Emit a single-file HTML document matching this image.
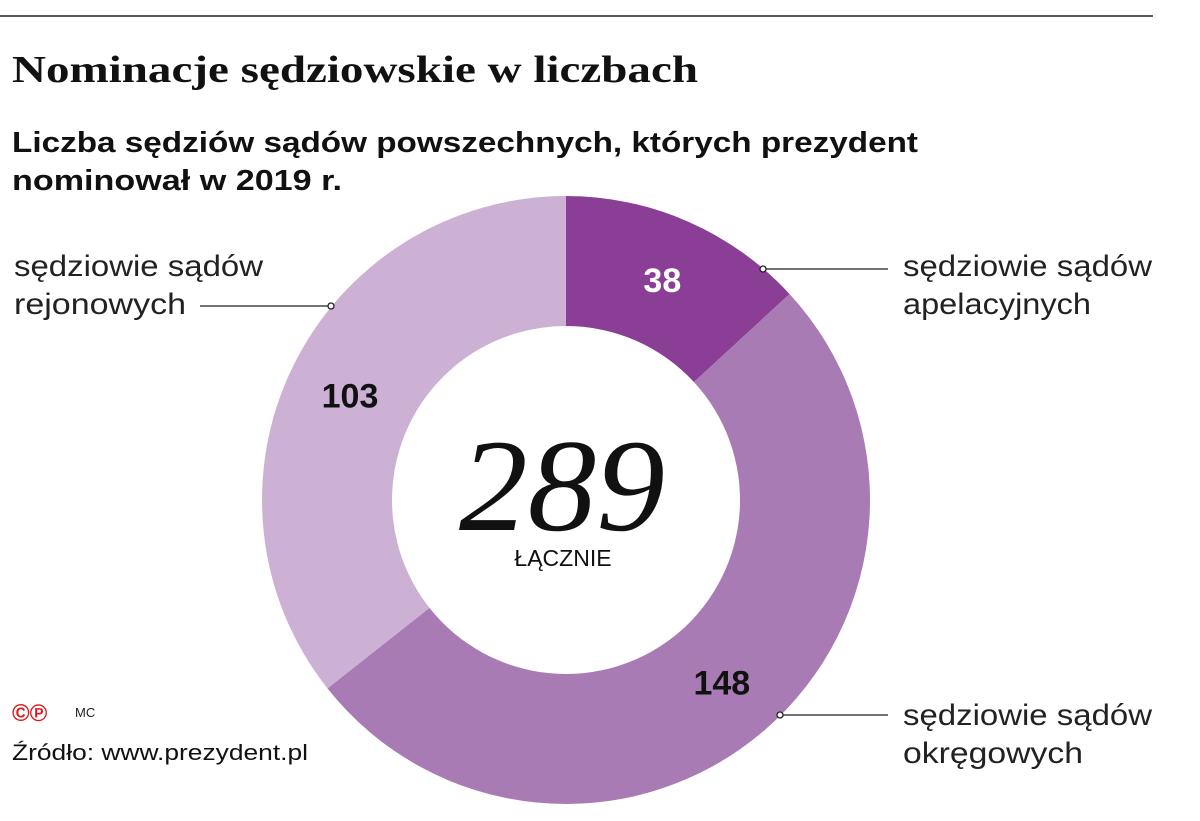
<!DOCTYPE html>
<html><head><meta charset="utf-8"><style>
html,body{margin:0;padding:0;background:#fff;}
svg{display:block;}
text{font-family:"Liberation Sans","DejaVu Sans",sans-serif;}
</style></head><body>
<svg id="chart" width="1200" height="821" viewBox="0 0 1200 821">
<line x1="0" y1="16" x2="1153" y2="16" stroke="#222" stroke-width="1.5"/>
<text x="12" y="82" style="font-family:'Liberation Serif',serif" font-weight="bold" font-size="38" textLength="686" lengthAdjust="spacingAndGlyphs" fill="#111">Nominacje sędziowskie w liczbach</text>
<text x="12" y="152" font-weight="bold" font-size="29" textLength="906" lengthAdjust="spacingAndGlyphs" fill="#111">Liczba sędziów sądów powszechnych, których prezydent</text>
<text x="12" y="190" font-weight="bold" font-size="29" textLength="330" lengthAdjust="spacingAndGlyphs" fill="#111">nominował w 2019 r.</text>
<g id="slices"></g>
<text x="562" y="530" text-anchor="middle" style="font-family:'Liberation Serif',serif" font-style="italic" font-size="132" textLength="206" lengthAdjust="spacingAndGlyphs" fill="#111">289</text>
<text x="563" y="566" text-anchor="middle" font-size="23" fill="#111">ŁĄCZNIE</text>
<g id="labels"></g>
<text x="12" y="721" font-size="24" font-weight="bold" fill="#e0161b">©℗</text>
<text x="75" y="717" font-size="13" fill="#222">MC</text>
<text x="12" y="760" font-size="22" fill="#111" textLength="296" lengthAdjust="spacingAndGlyphs">Źródło: www.prezydent.pl</text>
</svg>
<script>
const categories=["sędziowie sądów apelacyjnych","sędziowie sądów okręgowych","sędziowie sądów rejonowych"];
const values=[38,148,103];
const colors=["#8b3e96","#a97bb5","#cdb1d5"];
const cx=566,cy=500,R=304,r=174;
const NS="http://www.w3.org/2000/svg";
const total=values.reduce((a,b)=>a+b,0);
const sg=document.getElementById('slices');
const lg=document.getElementById('labels');
function pt(a,rad){return [cx+rad*Math.sin(a),cy-rad*Math.cos(a)];}
let acc=0;
const mids=[];
values.forEach((v,i)=>{
  const a0=acc/total*2*Math.PI; acc+=v; const a1=acc/total*2*Math.PI;
  const big=(a1-a0)>Math.PI?1:0;
  const p0=pt(a0,R),p1=pt(a1,R),q1=pt(a1,r),q0=pt(a0,r);
  const p=document.createElementNS(NS,'path');
  p.setAttribute('d',`M${p0[0]},${p0[1]}A${R},${R} 0 ${big} 1 ${p1[0]},${p1[1]}L${q1[0]},${q1[1]}A${r},${r} 0 ${big} 0 ${q0[0]},${q0[1]}Z`);
  p.setAttribute('fill',colors[i]);
  
  
  sg.appendChild(p);
  mids.push((a0+a1)/2);
});
values.forEach((v,i)=>{
  const c=pt(mids[i],240);
  const t=document.createElementNS(NS,'text');
  t.setAttribute('x',c[0]);t.setAttribute('y',c[1]+12);
  t.setAttribute('text-anchor','middle');t.setAttribute('font-weight','bold');
  t.setAttribute('font-size','34');t.setAttribute('fill',i===0?'#fff':'#111');
  
  
  t.textContent=v;lg.appendChild(t);
});
const leaders=[{d:[763,269],e:888,tx:903,ty:[276,314],l1:'sędziowie sądów',l2:'apelacyjnych',w2:188},
{d:[780,715],e:888,tx:903,ty:[725,763],l1:'sędziowie sądów',l2:'okręgowych',w2:180},
{d:[331,306],e:200,tx:14,ty:[276,314],l1:'sędziowie sądów',l2:'rejonowych',w2:172}];
leaders.forEach((L,i)=>{
  const ln=document.createElementNS(NS,'line');
  ln.setAttribute('x1',L.d[0]);ln.setAttribute('y1',L.d[1]);ln.setAttribute('x2',L.e);ln.setAttribute('y2',L.d[1]);
  ln.setAttribute('stroke','#222');ln.setAttribute('stroke-width','1.3');
  
  
  lg.appendChild(ln);
  const dot=document.createElementNS(NS,'circle');
  dot.setAttribute('cx',L.d[0]);dot.setAttribute('cy',L.d[1]);dot.setAttribute('r','3');
  dot.setAttribute('fill','#fff');dot.setAttribute('stroke','#222');dot.setAttribute('stroke-width','1.3');
  
  
  lg.appendChild(dot);
  [[L.l1,249],[L.l2,L.w2]].forEach((s,j)=>{
    const t=document.createElementNS(NS,'text');
    t.setAttribute('x',L.tx);t.setAttribute('y',L.ty[j]);t.setAttribute('font-size','30');t.setAttribute('fill','#222');
    t.setAttribute('textLength',s[1]);t.setAttribute('lengthAdjust','spacingAndGlyphs');
    
    
    t.textContent=s[0];lg.appendChild(t);
  });
});
</script>
</body></html>
